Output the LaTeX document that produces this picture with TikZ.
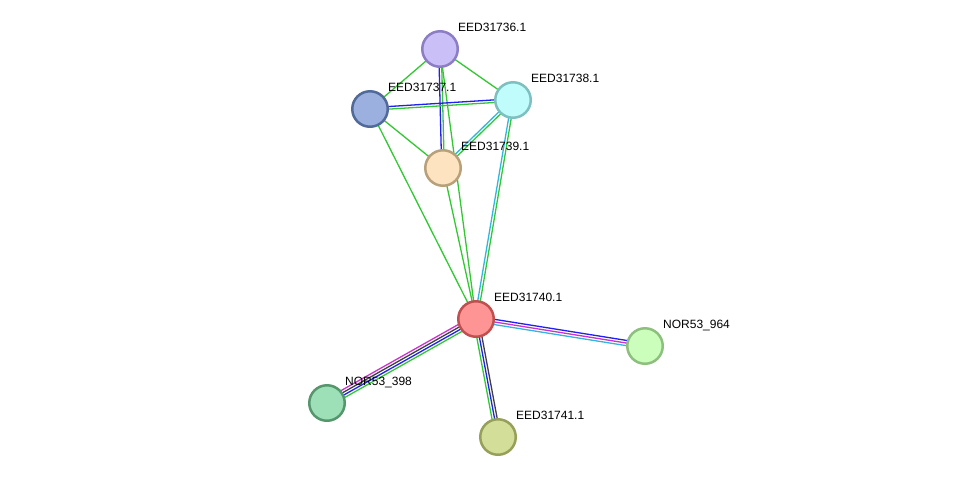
\documentclass[tikz,border=0pt]{standalone}
\usepackage{fontspec}
\setsansfont{Liberation Sans}
\usetikzlibrary{calc,backgrounds}

% edge colours
\definecolor{txtgreen}{RGB}{51,199,51}
\definecolor{cooblue}{RGB}{32,32,240}
\definecolor{expmag}{RGB}{204,51,204}
\definecolor{dbcyan}{RGB}{51,181,221}
\definecolor{coxgray}{RGB}{64,64,64}

% one strand of an edge, shifted sideways by #3
\newcommand\strand[4]{%
  \draw[edge,#4] ($(#1.center)!#3!90:(#2.center)$) -- ($(#2.center)!#3!-90:(#1.center)$);}

\begin{document}
\begin{tikzpicture}[
  x=1pt, y=-1pt,
  font=\sffamily\fontsize{12}{14}\selectfont,
  prot/.style ={circle,draw,line width=2.5pt,minimum size=35.5pt,inner sep=0pt},
  lbl/.style  ={anchor=base west,inner sep=0pt},
  edge/.style ={line width=1.3pt}
]
\useasboundingbox (0,0) rectangle (976,483);

% ==================================================
% PROTEINS
% ==================================================
\node[prot, fill={rgb,255:red,203;green,191;blue,248}, draw={rgb,255:red,140;green,125;blue,196}] (n36) at (440,49)  {};
\node[prot, fill={rgb,255:red,155;green,176;blue,222}, draw={rgb,255:red,80;green,106;blue,154}]  (n37) at (370,109) {};
\node[prot, fill={rgb,255:red,192;green,252;blue,252}, draw={rgb,255:red,126;green,191;blue,191}] (n38) at (513,100) {};
\node[prot, fill={rgb,255:red,254;green,227;blue,192}, draw={rgb,255:red,184;green,160;blue,122}] (n39) at (443,168) {};
\node[prot, fill={rgb,255:red,254;green,148;blue,148}, draw={rgb,255:red,192;green,80;blue,80}]   (n40) at (476,319) {};
\node[prot, fill={rgb,255:red,204;green,254;blue,187}, draw={rgb,255:red,141;green,191;blue,126}] (n964) at (645,346) {};
\node[prot, fill={rgb,255:red,157;green,224;blue,184}, draw={rgb,255:red,85;green,150;blue,109}]  (n398) at (327,403) {};
\node[prot, fill={rgb,255:red,211;green,222;blue,152}, draw={rgb,255:red,151;green,160;blue,88}]  (n41) at (498,437) {};

% labels, up and right of each protein
\node[lbl] (l36)  at ([xshift=18pt,yshift=17.5pt]n36.center)  {EED31736.1};
\node[lbl] (l37)  at ([xshift=18pt,yshift=17.5pt]n37.center)  {EED31737.1};
\node[lbl] (l38)  at ([xshift=18pt,yshift=17.5pt]n38.center)  {EED31738.1};
\node[lbl] (l39)  at ([xshift=18pt,yshift=17.5pt]n39.center)  {EED31739.1};
\node[lbl] (l40)  at ([xshift=18pt,yshift=17.5pt]n40.center)  {EED31740.1};
\node[lbl] (l964) at ([xshift=18pt,yshift=17.5pt]n964.center) {NOR53\_964};
\node[lbl] (l398) at ([xshift=18pt,yshift=17.5pt]n398.center) {NOR53\_398};
\node[lbl] (l41)  at ([xshift=18pt,yshift=17.5pt]n41.center)  {EED31741.1};

% ==================================================
% EDGES (behind the proteins)
% ==================================================
\begin{pgfonlayer}{background}
  % top cluster
  \strand{n36}{n37}{0pt}{txtgreen}
  \strand{n36}{n38}{0pt}{txtgreen}
  \strand{n36}{n39}{-1.3pt}{cooblue}
  \strand{n36}{n39}{1.3pt}{txtgreen}
  \strand{n36}{n40}{0pt}{txtgreen}
  \strand{n37}{n38}{1.3pt}{cooblue}
  \strand{n37}{n38}{-1.3pt}{txtgreen}
  \strand{n37}{n39}{0pt}{txtgreen}
  \strand{n37}{n40}{0pt}{txtgreen}
  \strand{n38}{n39}{-1.3pt}{dbcyan}
  \strand{n38}{n39}{1.3pt}{txtgreen}
  \strand{n38}{n40}{-1.3pt}{dbcyan}
  \strand{n38}{n40}{1.3pt}{txtgreen}
  \strand{n39}{n40}{0pt}{txtgreen}

  % around EED31740.1
  \strand{n40}{n964}{2.6pt}{cooblue}
  \strand{n40}{n964}{0pt}{expmag}
  \strand{n40}{n964}{-2.6pt}{dbcyan}
  \strand{n40}{n398}{-3.9pt}{expmag}
  \strand{n40}{n398}{-1.3pt}{coxgray}
  \strand{n40}{n398}{1.3pt}{cooblue}
  \strand{n40}{n398}{3.9pt}{txtgreen}
  \strand{n40}{n41}{2.6pt}{coxgray}
  \strand{n40}{n41}{0pt}{cooblue}
  \strand{n40}{n41}{-2.6pt}{txtgreen}
\end{pgfonlayer}

\end{tikzpicture}
\end{document}
